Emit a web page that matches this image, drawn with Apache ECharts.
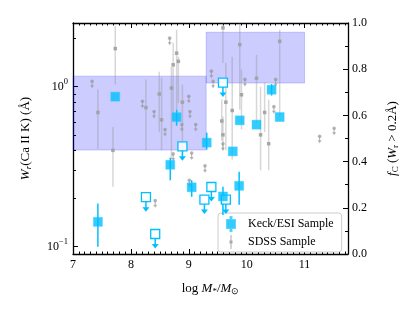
<!DOCTYPE html>
<html><head><meta charset="utf-8">
<script src="https://cdn.jsdelivr.net/npm/echarts@6/dist/echarts.min.js"></script>
<style>html,body{margin:0;padding:0;background:#fff}#c{width:415px;height:311px}</style>
</head><body><div id="c"></div>
<script>
// ---- axis ticks ----
const xTicks = [7, 8, 9, 10, 11];
const wMajorTicks = [0.1, 1];
const wMinorTicks = [0.2, 0.3, 0.4, 0.5, 0.6, 0.7, 0.8, 0.9, 2];
const fcTicks = [0, 0.2, 0.4, 0.6, 0.8, 1.0];

// ---- Keck/ESI detections ----
const keckX   = [7.43, 7.73, 8.79, 8.68, 9.05, 9.31, 9.59, 9.76, 9.87, 9.88, 10.17, 10.43, 10.57];
const keckY   = [0.143, 0.866, 0.645, 0.325, 0.235, 0.447, 0.206, 0.394, 0.240, 0.616, 0.579, 0.957, 0.646];
const keckLo  = [0.100, null, 0.57, 0.26, 0.205, 0.404, 0.158, null, 0.183, null, null, 0.88, null];
const keckHi  = [0.186, null, 0.718, 0.36, 0.26, 0.516, 0.237, null, 0.294, null, null, 1.04, null];
// ---- Keck/ESI upper limits ----
const keckLimX = [9.59, 8.89, 8.26, 8.42, 9.39, 9.27, 9.64];
const keckLimY = [1.06, 0.424, 0.204, 0.120, 0.236, 0.197, 0.197];

// ---- SDSS detections ----
const sdssX  = [7.73, 7.43, 7.69, 8.26, 8.49, 8.53, 8.70, 8.73, 8.79, 8.82, 8.89, 9.59, 9.64, 9.75, 9.88, 9.91, 10.17, 10.24, 10.31, 10.38, 10.57, 9.57, 9.59];
const sdssY  = [1.73, 0.69, 0.40, 0.74, 0.90, 0.62, 0.98, 1.37, 1.62, 1.44, 0.80, 2.33, 0.80, 0.71, 1.83, 0.89, 1.13, 0.50, 0.69, 0.44, 1.92, 0.61, 0.50];
const sdssLo = [1.03, 0.41, 0.237, 0.40, 0.52, 0.40, 0.35, 0.62, 0.72, 0.79, 0.35, 1.41, 0.40, 0.35, 0.72, 0.54, 0.60, 0.30, 0.52, 0.30, 0.65, 0.46, 0.40];
const sdssHi = [2.40, 0.96, 0.56, 1.11, 1.24, 1.14, 1.33, 1.88, 2.27, 1.54, 1.03, 2.48, 1.41, 1.54, 2.48, 1.28, 1.58, 1.00, 1.06, 0.83, 2.27, 0.83, 0.65];
// ---- SDSS upper limits ----
const sdssLimX = [7.33, 8.20, 8.40, 8.59, 8.67, 9.00, 9.02, 9.12, 8.88, 9.39, 9.42, 9.97, 10.50, 10.47, 11.26, 11.51, 9.28, 9.59, 8.73, 9.05, 9.01, 8.42];
const sdssLimY = [1.08, 0.81, 0.70, 0.54, 2.01, 0.87, 0.70, 0.58, 0.58, 1.25, 1.08, 1.11, 1.11, 0.75, 0.49, 0.55, 0.32, 0.44, 0.38, 0.385, 0.26, 0.194];

// ---- covering fraction bins ----
const fcBinX0 = [7.0, 9.3];
const fcBinX1 = [9.3, 11.0];
const fcLo = [0.45, 0.74];
const fcHi = [0.77, 0.96];

const KECK = '#00bfff';
const FONT = 'Liberation Serif';

const chart = echarts.init(document.getElementById('c'), null, {renderer: 'canvas'});

function zipErr(xs, ys, lo, hi) {
  const out = [];
  for (let i = 0; i < xs.length; i++) if (lo[i] != null) out.push([xs[i], ys[i], lo[i], hi[i]]);
  return out;
}
function zip(xs, ys) { return xs.map((x, i) => [x, ys[i]]); }

function errRender(color, width) {
  return function (params, api) {
    const x = api.value(0);
    const p1 = api.coord([x, api.value(3)]);
    const p2 = api.coord([x, api.value(2)]);
    return {type: 'line', shape: {x1: p1[0], y1: p1[1], x2: p2[0], y2: p2[1]},
      style: {stroke: color, lineWidth: width}};
  };
}

const tickStyle = {color: '#000', fontFamily: FONT, fontSize: 12};

const option = {
  animation: false,
  backgroundColor: '#fff',
  textStyle: {fontFamily: FONT},
  grid: {left: 73, top: 23, right: 67, bottom: 57, containLabel: false},
  legend: {
    orient: 'vertical', left: 218, top: 213,
    backgroundColor: '#fff', borderColor: '#cccccc', borderWidth: 1, borderRadius: 3,
    padding: [3, 8, 3, 8], itemGap: 3, itemWidth: 24, itemHeight: 14,
    symbolKeepAspect: true,
    textStyle: {fontFamily: FONT, fontSize: 12, color: '#000'},
    data: [
      {name: 'Keck/ESI Sample', icon: 'path://M3.5,0h1v3h-1z M0,3h8v8h-8z M3.5,11h1v3h-1z'},
      {name: 'SDSS Sample', icon: 'path://M1.5,0h1v14h-1z M0.5,5.5h3v3h-3z'}
    ]
  },
  xAxis: [
    {
      type: 'value', min: 7, max: 11.75, interval: 1, position: 'bottom',
      axisLine: {lineStyle: {color: '#000', width: 1.3}},
      axisTick: {inside: true, length: 5, lineStyle: {color: '#000'}},
      minorTick: {show: true, splitNumber: 10, length: 2.5, lineStyle: {color: '#000'}},
      splitLine: {show: false},
      axisLabel: Object.assign({margin: 5, formatter: v => xTicks.includes(v) ? String(v) : ''}, tickStyle),
      name: '{n|log }{i|M}{s|*}{n|/}{i|M}{s|⊙}',
      nameLocation: 'middle', nameGap: 28,
      nameTextStyle: {rich: {
        n: {fontFamily: FONT, fontSize: 13, color: '#000'},
        i: {fontFamily: FONT, fontSize: 13, fontStyle: 'italic', color: '#000'},
        s: {fontFamily: FONT, fontSize: 9, color: '#000', padding: [5, 0, 0, 0]}
      }}
    },
    {
      type: 'value', min: 7, max: 11.75, interval: 1, position: 'top',
      axisLine: {lineStyle: {color: '#000', width: 1.3}},
      axisTick: {inside: true, length: 5, lineStyle: {color: '#000'}},
      minorTick: {show: true, splitNumber: 10, length: 2.5, lineStyle: {color: '#000'}},
      splitLine: {show: false}, axisLabel: {show: false}
    }
  ],
  yAxis: [
    {
      type: 'log', logBase: 10, min: 0.09, max: 2.5, position: 'left',
      axisLine: {lineStyle: {color: '#000', width: 1.3}},
      axisTick: {inside: true, length: 5, lineStyle: {color: '#000'}, customValues: wMajorTicks},
      splitLine: {show: false},
      axisLabel: {
        customValues: wMajorTicks, margin: 5,
        formatter: v => '{b|10}{s|' + (Math.round(Math.log10(v)) === 0 ? '0' : '−1') + '}',
        rich: {
          b: {fontFamily: FONT, fontSize: 12, color: '#000'},
          s: {fontFamily: FONT, fontSize: 8.5, color: '#000', padding: [0, 0, 9, 0]}
        }
      },
      name: '{i|W}{sub|r}{n|(Ca II K) (Å)}',
      nameLocation: 'middle', nameGap: 40, nameRotate: 90,
      nameTextStyle: {rich: {
        n: {fontFamily: FONT, fontSize: 13, color: '#000'},
        i: {fontFamily: FONT, fontSize: 13, fontStyle: 'italic', color: '#000'},
        sub: {fontFamily: FONT, fontSize: 9, fontStyle: 'italic', color: '#000', padding: [5, 0, 0, 0]}
      }}
    },
    {
      type: 'log', logBase: 10, min: 0.09, max: 2.5, position: 'left',
      axisLine: {show: false},
      axisTick: {inside: true, length: 3, lineStyle: {color: '#000'}, customValues: wMinorTicks},
      splitLine: {show: false}, axisLabel: {show: false}
    },
    {
      type: 'value', min: 0, max: 1, interval: 0.2, position: 'right',
      axisLine: {show: true, lineStyle: {color: '#000', width: 1.3}},
      axisTick: {show: true, inside: true, length: 5, lineStyle: {color: '#000'}},
      minorTick: {show: true, splitNumber: 2, length: 3, lineStyle: {color: '#000'}},
      splitLine: {show: false},
      axisLabel: Object.assign({margin: 4, formatter: v => v.toFixed(1)}, tickStyle),
      name: '{i|f}{sub|C}{n| (}{i|W}{sub|r}{n| > 0.2Å)}',
      nameLocation: 'middle', nameGap: 38, nameRotate: 90,
      nameTextStyle: {rich: {
        n: {fontFamily: FONT, fontSize: 13, color: '#000'},
        i: {fontFamily: FONT, fontSize: 13, fontStyle: 'italic', color: '#000'},
        sub: {fontFamily: FONT, fontSize: 9, color: '#000', padding: [5, 0, 0, 0]}
      }}
    }
  ],
  series: [
    // covering fraction boxes (right axis)
    {
      type: 'custom', name: 'fc', xAxisIndex: 0, yAxisIndex: 2, z: 1, silent: true,
      data: fcBinX0.map((x0, i) => [x0, fcLo[i], fcBinX1[i], fcHi[i]]),
      encode: {x: [0, 2], y: [1, 3]},
      renderItem: function (params, api) {
        const a = api.coord([api.value(0), api.value(3)]);
        const b = api.coord([api.value(2), api.value(1)]);
        return {type: 'rect', shape: {x: a[0], y: a[1], width: b[0] - a[0], height: b[1] - a[1]},
          style: {fill: 'rgba(0,0,255,0.2)', stroke: 'rgba(0,0,255,0.18)', lineWidth: 1}};
      }
    },
    // SDSS error bars
    {
      type: 'custom', name: 'SDSS err', xAxisIndex: 0, yAxisIndex: 0, z: 2, silent: true,
      data: zipErr(sdssX, sdssY, sdssLo, sdssHi), encode: {x: 0, y: 1},
      renderItem: errRender('rgba(140,140,140,0.35)', 1.5)
    },
    {
      type: 'scatter', name: 'SDSS Sample', xAxisIndex: 0, yAxisIndex: 0, z: 3,
      symbol: 'rect', symbolSize: 3.5,
      itemStyle: {color: '#a0a0a0', opacity: 0.9},
      data: zip(sdssX, sdssY)
    },
    // SDSS upper limits
    {
      type: 'custom', name: 'SDSS lim', xAxisIndex: 0, yAxisIndex: 0, z: 3, silent: true,
      data: zip(sdssLimX, sdssLimY), encode: {x: 0, y: 1},
      renderItem: function (params, api) {
        const p = api.coord([api.value(0), api.value(1)]);
        const c = 'rgba(150,150,150,0.7)';
        return {type: 'group', children: [
          {type: 'circle', shape: {cx: p[0], cy: p[1], r: 1.8}, style: {fill: c}},
          {type: 'line', shape: {x1: p[0], y1: p[1], x2: p[0], y2: p[1] + 5}, style: {stroke: c, lineWidth: 1}},
          {type: 'polygon', shape: {points: [[p[0] - 2, p[1] + 4], [p[0] + 2, p[1] + 4], [p[0], p[1] + 7]]}, style: {fill: c}}
        ]};
      }
    },
    // Keck error bars
    {
      type: 'custom', name: 'Keck err', xAxisIndex: 0, yAxisIndex: 0, z: 4, silent: true,
      data: zipErr(keckX, keckY, keckLo, keckHi), encode: {x: 0, y: 1},
      renderItem: errRender(KECK, 1.5)
    },
    {
      type: 'scatter', name: 'Keck/ESI Sample', xAxisIndex: 0, yAxisIndex: 0, z: 5,
      symbol: 'rect', symbolSize: 9,
      itemStyle: {color: KECK, borderColor: '#33ccff', borderWidth: 0.5},
      data: zip(keckX, keckY)
    },
    // Keck upper limits
    {
      type: 'custom', name: 'Keck lim', xAxisIndex: 0, yAxisIndex: 0, z: 5, silent: true,
      data: zip(keckLimX, keckLimY), encode: {x: 0, y: 1},
      renderItem: function (params, api) {
        const p = api.coord([api.value(0), api.value(1)]);
        return {type: 'group', children: [
          {type: 'rect', shape: {x: p[0] - 4.5, y: p[1] - 4.5, width: 9, height: 9},
            style: {fill: 'rgba(255,255,255,0.85)', stroke: KECK, lineWidth: 1.3}},
          {type: 'line', shape: {x1: p[0], y1: p[1] + 4.5, x2: p[0], y2: p[1] + 11}, style: {stroke: KECK, lineWidth: 1.5}},
          {type: 'polygon', shape: {points: [[p[0] - 3.5, p[1] + 10], [p[0] + 3.5, p[1] + 10], [p[0], p[1] + 14.5]]}, style: {fill: KECK}}
        ]};
      }
    }
  ]
};
chart.setOption(option);
</script>
</body></html>
